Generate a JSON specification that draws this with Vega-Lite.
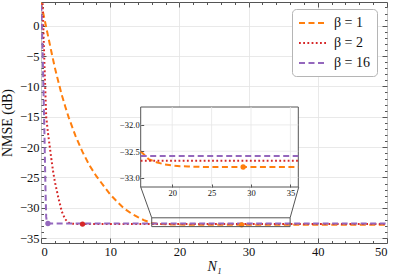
{
  "$schema": "https://vega.github.io/schema/vega-lite/v6.json",
  "width": 346,
  "height": 241,
  "autosize": {"type": "none"},
  "padding": {"left": 41, "top": 2, "right": 9, "bottom": 31},
  "background": "white",
  "config": {
    "font": "Liberation Serif",
    "view": {"stroke": "#555", "strokeWidth": 1},
    "axis": {
      "labelFont": "Liberation Serif", "titleFont": "Liberation Serif",
      "labelFontSize": 12.5, "titleFontSize": 14, "titleFontWeight": "normal",
      "labelColor": "#111", "titleColor": "#111", "tickColor": "#555",
      "tickSize": -5, "labelPadding": 7, "domain": false, "grid": false,
      "labelOverlap": false, "labelBound": false, "tickCount": 100,
      "gridColor": "#e3e3e3", "gridWidth": 0.8
    }
  },
  "datasets": {
    "curves": [
      {"N": 0, "v": 3.8, "b": "1"}, {"N": 0.5, "v": 1.1, "b": "1"}, {"N": 1, "v": -1.6, "b": "1"},
      {"N": 1.5, "v": -4.3, "b": "1"}, {"N": 2, "v": -6.9, "b": "1"}, {"N": 2.5, "v": -9.2, "b": "1"},
      {"N": 3, "v": -11.4, "b": "1"}, {"N": 3.5, "v": -13.3, "b": "1"}, {"N": 4, "v": -15.1, "b": "1"},
      {"N": 5, "v": -18.2, "b": "1"}, {"N": 6, "v": -20.8, "b": "1"}, {"N": 7, "v": -23.0, "b": "1"},
      {"N": 8, "v": -24.8, "b": "1"}, {"N": 9, "v": -26.3, "b": "1"}, {"N": 10, "v": -27.8, "b": "1"},
      {"N": 11, "v": -29.0, "b": "1"}, {"N": 12, "v": -30.1, "b": "1"}, {"N": 13, "v": -30.9, "b": "1"},
      {"N": 14, "v": -31.55, "b": "1"}, {"N": 15, "v": -32.1, "b": "1"}, {"N": 16, "v": -32.5, "b": "1"},
      {"N": 17, "v": -32.65, "b": "1"}, {"N": 18, "v": -32.71, "b": "1"}, {"N": 19, "v": -32.75, "b": "1"},
      {"N": 20, "v": -32.77, "b": "1"}, {"N": 21, "v": -32.785, "b": "1"}, {"N": 22, "v": -32.79, "b": "1"},
      {"N": 24, "v": -32.8, "b": "1"}, {"N": 29, "v": -32.8, "b": "1"}, {"N": 36, "v": -32.8, "b": "1"},
      {"N": 50, "v": -32.8, "b": "1"},
      {"N": 0, "v": 12, "b": "2"}, {"N": 0.25, "v": 3, "b": "2"}, {"N": 0.5, "v": -6.5, "b": "2"},
      {"N": 0.75, "v": -15, "b": "2"}, {"N": 1, "v": -17.6, "b": "2"}, {"N": 1.25, "v": -19.8, "b": "2"},
      {"N": 1.5, "v": -22, "b": "2"}, {"N": 1.75, "v": -24, "b": "2"}, {"N": 2, "v": -25.7, "b": "2"},
      {"N": 2.5, "v": -28.3, "b": "2"}, {"N": 3, "v": -30.6, "b": "2"}, {"N": 3.5, "v": -31.9, "b": "2"},
      {"N": 4, "v": -32.45, "b": "2"}, {"N": 4.5, "v": -32.62, "b": "2"}, {"N": 5, "v": -32.67, "b": "2"},
      {"N": 6, "v": -32.68, "b": "2"}, {"N": 16, "v": -32.68, "b": "2"}, {"N": 36, "v": -32.68, "b": "2"},
      {"N": 50, "v": -32.68, "b": "2"},
      {"N": 0, "v": 5, "b": "16"}, {"N": 0.25, "v": -5, "b": "16"}, {"N": 0.5, "v": -18, "b": "16"},
      {"N": 0.65, "v": -27, "b": "16"}, {"N": 0.75, "v": -31.5, "b": "16"}, {"N": 0.85, "v": -32.45, "b": "16"},
      {"N": 1, "v": -32.59, "b": "16"}, {"N": 16, "v": -32.59, "b": "16"}, {"N": 36, "v": -32.59, "b": "16"},
      {"N": 50, "v": -32.59, "b": "16"}
    ],
    "markers": [
      {"N": 1, "v": -32.59, "b": "16"},
      {"N": 6, "v": -32.68, "b": "2"},
      {"N": 29, "v": -32.8, "b": "1"}
    ]
  },
  "resolve": {
    "scale": {"x": "independent", "y": "independent"},
    "axis": {"x": "independent", "y": "independent"}
  },
  "layer": [
    {
      "layer": [
        {
          "data": {"name": "curves"},
          "mark": {"type": "line", "clip": true, "strokeWidth": 2},
          "encoding": {
            "x": {"field": "N", "type": "quantitative", "title": "N₁",
              "scale": {"domain": [0, 50], "nice": false, "zero": false},
              "axis": {"orient": "bottom", "values": [0, 10, 20, 30, 40, 50], "format": "d", "tickCount": 100, "grid": true, "labelOverlap": false, "titleFontStyle": "italic", "titlePadding": 2}},
            "y": {"field": "v", "type": "quantitative", "title": "NMSE (dB)",
              "scale": {"domain": [-35.8, 3.9], "nice": false, "zero": false},
              "axis": {"orient": "left", "values": [-35, -30, -25, -20, -15, -10, -5, 0], "format": "d", "tickCount": 100, "grid": true, "labelOverlap": false, "titlePadding": 5}},
            "color": {"field": "b", "type": "nominal",
              "scale": {"domain": ["1", "2", "16"], "range": ["#ff7f0e", "#d62728", "#9467bd"]},
              "legend": {"orient": "none", "legendX": 251, "legendY": 7, "title": null, "fillColor": "white", "strokeColor": "#b5b5b5", "cornerRadius": 4, "padding": 6, "symbolType": "M-1,0H3", "symbolSize": 196, "symbolStrokeWidth": 2, "symbolFillColor": "transparent", "labelFont": "Liberation Serif", "labelFontSize": 14, "labelColor": "#111", "labelOffset": 20, "rowPadding": 5, "labelExpr": "'β = ' + datum.label"}},
            "strokeDash": {"field": "b", "type": "nominal",
              "scale": {"domain": ["1", "2", "16"], "range": [[6, 3.5], [1.8, 2.4], [6, 3.5]]},
              "legend": {"orient": "none", "legendX": 251, "legendY": 7, "title": null, "fillColor": "white", "strokeColor": "#b5b5b5", "cornerRadius": 4, "padding": 6, "symbolType": "M-1,0H3", "symbolSize": 196, "symbolStrokeWidth": 2, "symbolFillColor": "transparent", "labelFont": "Liberation Serif", "labelFontSize": 14, "labelColor": "#111", "labelOffset": 20, "rowPadding": 5, "labelExpr": "'β = ' + datum.label"}}
          }
        },
        {
          "data": {"name": "markers"},
          "mark": {"type": "point", "filled": true, "size": 28, "opacity": 1},
          "encoding": {
            "x": {"field": "N", "type": "quantitative", "title": "N₁"},
            "y": {"field": "v", "type": "quantitative", "title": "NMSE (dB)"},
            "color": {"field": "b", "type": "nominal"}
          }
        },
        {
          "data": {"values": [{"N": 16, "N2": 36, "v": -33.1, "v2": -31.65}]},
          "mark": {"type": "rect", "fill": "white", "fillOpacity": 0, "stroke": "#555", "strokeWidth": 1},
          "encoding": {
            "x": {"field": "N", "type": "quantitative", "title": "N₁"},
            "x2": {"field": "N2"},
            "y": {"field": "v", "type": "quantitative", "title": "NMSE (dB)"},
            "y2": {"field": "v2"}
          }
        },
        {
          "data": {"values": [
            {"N": 16, "v": -31.65, "N2": 14.41, "v2": -26.57},
            {"N": 36, "v": -31.65, "N2": 37.25, "v2": -26.57}
          ]},
          "mark": {"type": "rule", "stroke": "#555", "strokeWidth": 1},
          "encoding": {
            "x": {"field": "N", "type": "quantitative", "title": "N₁"},
            "x2": {"field": "N2"},
            "y": {"field": "v", "type": "quantitative", "title": "NMSE (dB)"},
            "y2": {"field": "v2"}
          }
        }
      ]
    },
    {
      "data": {"values": [{"N": 0, "v": 0}]},
      "mark": {"type": "point", "opacity": 0},
      "encoding": {
        "x": {"field": "N", "type": "quantitative", "title": null,
          "scale": {"domain": [0, 50], "nice": false, "zero": false},
          "axis": {"orient": "top", "values": [0, 10, 20, 30, 40, 50], "tickCount": 100, "labels": false}},
        "y": {"field": "v", "type": "quantitative", "title": null,
          "scale": {"domain": [-35.8, 3.9], "nice": false, "zero": false},
          "axis": {"orient": "right", "values": [-35, -30, -25, -20, -15, -10, -5, 0], "tickCount": 100, "labels": false}}
      }
    },
    {
      "data": {"values": [{"N": 0, "v": 0}]},
      "mark": {"type": "point", "opacity": 0},
      "encoding": {
        "x": {"field": "N", "type": "quantitative", "title": null,
          "scale": {"domain": [0, 50], "nice": false, "zero": false},
          "axis": {"orient": "bottom", "values": [2, 4, 6, 8, 12, 14, 16, 18, 22, 24, 26, 28, 32, 34, 36, 38, 42, 44, 46, 48], "tickCount": 100, "labels": false, "tickSize": -2.5}},
        "y": {"field": "v", "type": "quantitative", "title": null,
          "scale": {"domain": [-35.8, 3.9], "nice": false, "zero": false},
          "axis": {"orient": "left", "values": [-34, -33, -32, -31, -29, -28, -27, -26, -24, -23, -22, -21, -19, -18, -17, -16, -14, -13, -12, -11, -9, -8, -7, -6, -4, -3, -2, -1, 1, 2, 3], "tickCount": 100, "labels": false, "tickSize": -2.5}}
      }
    },
    {
      "data": {"values": [{"N": 0, "v": 0}]},
      "mark": {"type": "point", "opacity": 0},
      "encoding": {
        "x": {"field": "N", "type": "quantitative", "title": null,
          "scale": {"domain": [0, 50], "nice": false, "zero": false},
          "axis": {"orient": "top", "values": [2, 4, 6, 8, 12, 14, 16, 18, 22, 24, 26, 28, 32, 34, 36, 38, 42, 44, 46, 48], "tickCount": 100, "labels": false, "tickSize": -2.5}},
        "y": {"field": "v", "type": "quantitative", "title": null,
          "scale": {"domain": [-35.8, 3.9], "nice": false, "zero": false},
          "axis": {"orient": "right", "values": [-34, -33, -32, -31, -29, -28, -27, -26, -24, -23, -22, -21, -19, -18, -17, -16, -14, -13, -12, -11, -9, -8, -7, -6, -4, -3, -2, -1, 1, 2, 3], "tickCount": 100, "labels": false, "tickSize": -2.5}}
      }
    },
    {
      "layer": [
        {
          "data": {"values": [{"N": 16, "N2": 36, "v": -33.18, "v2": -31.66}]},
          "mark": {"type": "rect", "fill": "white", "stroke": "#555", "strokeWidth": 1},
          "encoding": {
            "x": {"field": "N", "type": "quantitative", "title": null,
              "scale": {"domain": [16, 36], "range": [99.7, 257.3], "nice": false, "zero": false},
              "axis": {"orient": "bottom", "offset": -56, "values": [20, 25, 30, 35], "format": "d", "tickCount": 100, "labelFontSize": 8.5, "tickSize": -3, "labelPadding": 4, "zindex": 1}},
            "x2": {"field": "N2"},
            "y": {"field": "v", "type": "quantitative", "title": null,
              "scale": {"domain": [-33.18, -31.66], "range": [185, 105], "nice": false, "zero": false},
              "axis": {"orient": "left", "offset": -99.7, "values": [-33, -32.5, -32], "tickCount": 100, "format": ".1f", "labelFontSize": 8.5, "tickSize": -3, "labelPadding": 4.5, "zindex": 1}},
            "y2": {"field": "v2"}
          }
        },
        {
          "data": {"values": [
            {"N": 20, "N2": 20, "v": -33.18, "v2": -31.66},
            {"N": 25, "N2": 25, "v": -33.18, "v2": -31.66},
            {"N": 30, "N2": 30, "v": -33.18, "v2": -31.66},
            {"N": 35, "N2": 35, "v": -33.18, "v2": -31.66},
            {"N": 16, "N2": 36, "v": -33, "v2": -33},
            {"N": 16, "N2": 36, "v": -32.5, "v2": -32.5},
            {"N": 16, "N2": 36, "v": -32, "v2": -32}
          ]},
          "mark": {"type": "rule", "stroke": "#e6e6e6", "strokeWidth": 0.8},
          "encoding": {
            "x": {"field": "N", "type": "quantitative", "title": null},
            "x2": {"field": "N2"},
            "y": {"field": "v", "type": "quantitative", "title": null},
            "y2": {"field": "v2"}
          }
        },
        {
          "data": {"name": "curves"},
          "transform": [{"filter": "datum.N >= 16 && datum.N <= 36"}],
          "mark": {"type": "line", "strokeWidth": 2},
          "encoding": {
            "x": {"field": "N", "type": "quantitative", "title": null},
            "y": {"field": "v", "type": "quantitative", "title": null},
            "color": {"field": "b", "type": "nominal"},
            "strokeDash": {"field": "b", "type": "nominal"}
          }
        },
        {
          "data": {"name": "markers"},
          "transform": [{"filter": "datum.N >= 16 && datum.N <= 36"}],
          "mark": {"type": "point", "filled": true, "size": 28, "opacity": 1},
          "encoding": {
            "x": {"field": "N", "type": "quantitative", "title": null},
            "y": {"field": "v", "type": "quantitative", "title": null},
            "color": {"field": "b", "type": "nominal"}
          }
        }
      ]
    }
  ]
}
